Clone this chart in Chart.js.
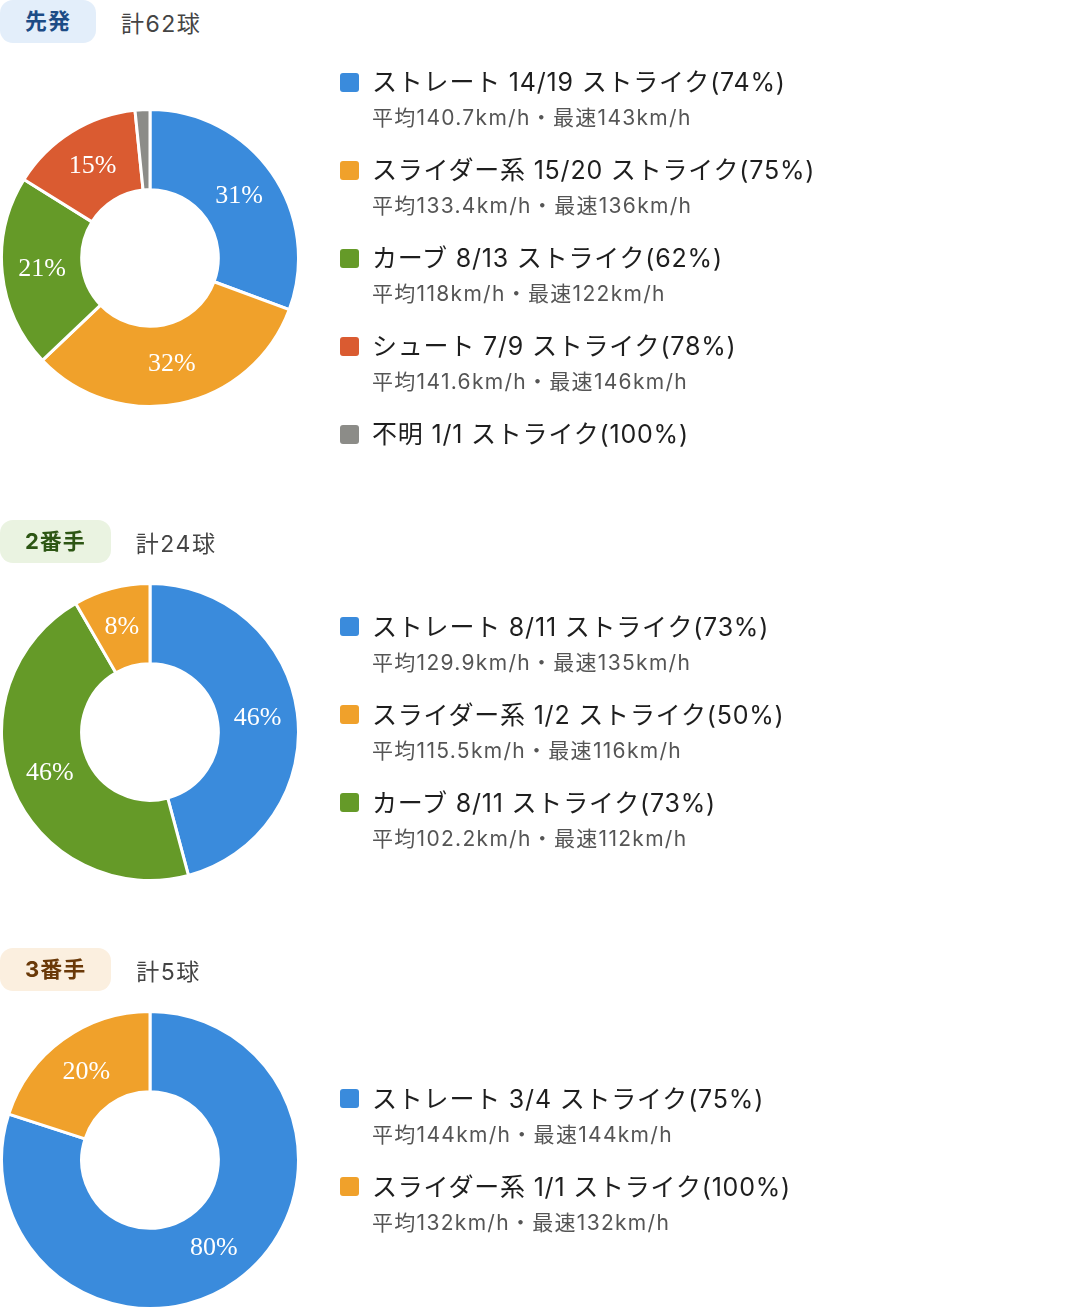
<!DOCTYPE html>
<html lang="ja">
<head>
<meta charset="utf-8">
<title>投手別 球種割合</title>
<script src="https://cdn.jsdelivr.net/npm/chart.js@4.4.1/dist/chart.umd.min.js"></script>
<style>
  body {
    margin: 0;
    background: #fff;
    font-family: Inter, "Noto Sans CJK JP", "Noto Sans", sans-serif;
    color: #222;
  }
  .pitcher {
    width: 1076px;
    margin-bottom: 66px;
  }
  .head {
    display: flex;
    align-items: center;
    height: 43px;
  }
  .badge {
    display: inline-block;
    height: 43px;
    line-height: 43px;
    padding: 0 25px;
    border-radius: 13px;
    font-size: 22px;
    font-weight: 700;
    letter-spacing: 1px;
  }
  .total {
    margin-left: 25px;
    font-size: 23px;
    letter-spacing: 1.5px;
    color: #444;
  }
  .row {
    display: flex;
    align-items: center;
    margin-top: 19px;
  }
  .chart {
    width: 300px;
    height: 300px;
    flex: none;
  }
  .legend {
    list-style: none;
    margin: 0 0 0 40px;
    padding: 4px 0;
  }
  .legend li {
    margin-bottom: 21px;
  }
  .legend li:last-child {
    margin-bottom: 0;
  }
  .legend .title {
    display: flex;
    align-items: center;
    font-size: 25px;
    line-height: 32px;
    letter-spacing: 0.8px;
    color: #1e1e1e;
    white-space: nowrap;
  }
  .legend .swatch {
    width: 19px;
    height: 19px;
    border-radius: 3px;
    margin-right: 13px;
    flex: none;
  }
  .legend .sub {
    margin-top: 5px;
    margin-left: 32px;
    font-size: 21px;
    line-height: 30px;
    letter-spacing: 1.3px;
    color: #555;
    white-space: nowrap;
  }
</style>
</head>
<body>

<div id="pitchers"></div>

<script>
// 投手ごとの見出し
const pitcherNames = ['先発', '2番手', '3番手'];
const badgeBg = ['#e3eefa', '#eaf3e1', '#fbefdf'];
const badgeText = ['#1d4c86', '#2d5614', '#6a3908'];

// 球種ごとの色
const pitchTypes = ['ストレート', 'スライダー系', 'カーブ', 'シュート', '不明'];
const pitchColors = ['#3a8bdc', '#f0a12b', '#659a28', '#da5b31', '#8c8c88'];

// 先発
const starterTypes = ['ストレート', 'スライダー系', 'カーブ', 'シュート', '不明'];
const starterCounts = [19, 20, 13, 9, 1];
const starterStrikes = [14, 15, 8, 7, 1];
const starterAvg = [140.7, 133.4, 118, 141.6, null];
const starterMax = [143, 136, 122, 146, null];
const starterSliceOrder = [0, 1, 2, 3, 4];

// 2番手
const secondTypes = ['ストレート', 'スライダー系', 'カーブ'];
const secondCounts = [11, 2, 11];
const secondStrikes = [8, 1, 8];
const secondAvg = [129.9, 115.5, 102.2];
const secondMax = [135, 116, 112];
const secondSliceOrder = [0, 2, 1];

// 3番手
const thirdTypes = ['ストレート', 'スライダー系'];
const thirdCounts = [4, 1];
const thirdStrikes = [3, 1];
const thirdAvg = [144, 132];
const thirdMax = [144, 132];
const thirdSliceOrder = [0, 1];

const pitchers = [
    [starterTypes, starterCounts, starterStrikes, starterAvg, starterMax, starterSliceOrder],
    [secondTypes, secondCounts, secondStrikes, secondAvg, secondMax, secondSliceOrder],
    [thirdTypes, thirdCounts, thirdStrikes, thirdAvg, thirdMax, thirdSliceOrder]
];

// Draw percentage inside each slice (small slices skipped)
const sliceLabels = {
    id: 'sliceLabels',
    afterDatasetsDraw(chart) {
        const ctx = chart.ctx;
        const data = chart.data.datasets[0].data;
        const total = data.reduce((a, b) => a + b, 0);
        chart.getDatasetMeta(0).data.forEach((arc, i) => {
            const pct = data[i] / total * 100;
            if (pct < 5) return;
            const pos = arc.tooltipPosition();
            ctx.save();
            ctx.fillStyle = '#fff';
            ctx.font = '26px "Liberation Serif", "DejaVu Serif", serif';
            ctx.textAlign = 'center';
            ctx.textBaseline = 'middle';
            ctx.fillText(Math.round(pct) + '%', pos.x, pos.y);
            ctx.restore();
        });
    }
};

function colorFor(type) {
    return pitchColors[pitchTypes.indexOf(type)];
}

const root = document.getElementById('pitchers');

pitchers.forEach(([types, counts, strikes, avg, max, order], p) => {
    const total = counts.reduce((a, b) => a + b, 0);

    const section = document.createElement('div');
    section.className = 'pitcher';
    section.innerHTML =
        '<div class="head">' +
        `<span class="badge" style="background:${badgeBg[p]};color:${badgeText[p]}">${pitcherNames[p]}</span>` +
        `<span class="total">計${total}球</span>` +
        '</div>' +
        '<div class="row"><div class="chart"><canvas width="300" height="300"></canvas></div><ul class="legend"></ul></div>';
    root.appendChild(section);

    const legend = section.querySelector('.legend');
    types.forEach((t, i) => {
        const rate = Math.round(strikes[i] / counts[i] * 100);
        const li = document.createElement('li');
        let html = `<div class="title"><span class="swatch" style="background:${colorFor(t)}"></span>` +
            `${t} ${strikes[i]}/${counts[i]} ストライク(${rate}%)</div>`;
        if (avg[i] !== null) {
            html += `<div class="sub">平均${avg[i]}km/h・最速${max[i]}km/h</div>`;
        }
        li.innerHTML = html;
        legend.appendChild(li);
    });

    const sliceTypes = order.map(i => types[i]);
    new Chart(section.querySelector('canvas'), {
        type: 'doughnut',
        data: {
            labels: sliceTypes,
            datasets: [{
                data: order.map(i => counts[i]),
                backgroundColor: sliceTypes.map(colorFor),
                borderColor: '#fff',
                borderWidth: 3
            }]
        },
        options: {
            responsive: false,
            animation: false,
            cutout: '46%',
            plugins: {
                legend: { display: false },
                tooltip: { enabled: false }
            }
        },
        plugins: [sliceLabels]
    });
});
</script>
</body>
</html>
